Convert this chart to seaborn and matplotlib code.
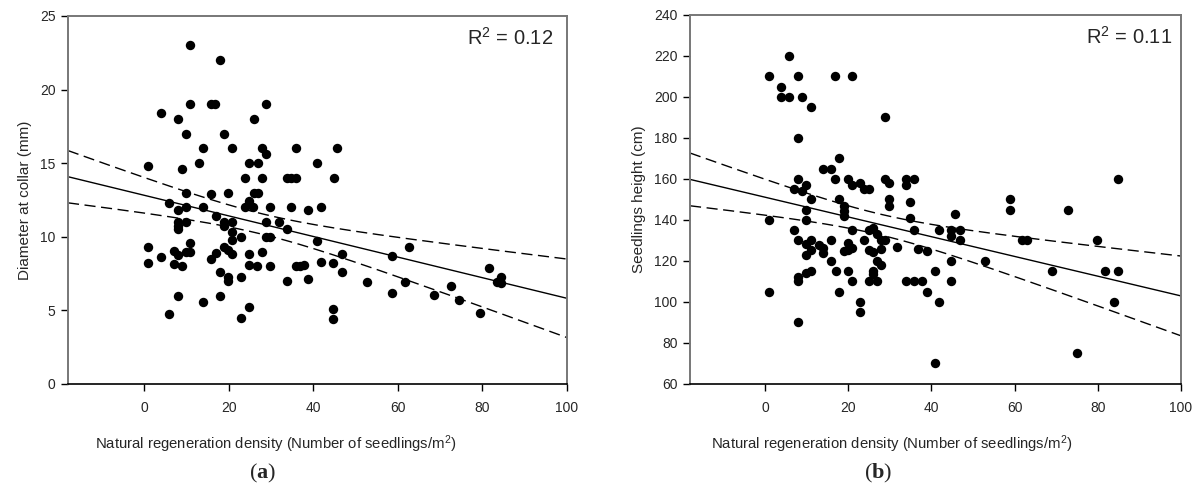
import numpy as np
import pandas as pd
import matplotlib
matplotlib.use("Agg")
import matplotlib.pyplot as plt
import seaborn as sns

# ---------------- data ----------------
density_a = [10.9, 17.9, 4.0, 10.9, 15.9, 16.7, 28.9, 7.9, 25.9, 9.9, 18.9, 14.0, 20.9, 27.8,
             28.9, 35.8, 45.7, 1.0, 8.9, 12.9, 24.9, 26.9, 40.9, 23.9, 27.8, 33.8, 34.7, 35.8,
             44.8, 9.9, 15.9, 19.9, 25.9, 26.9, 24.9, 6.0, 7.9, 9.9, 13.9, 23.8, 25.8, 29.8,
             34.8, 38.8, 41.8, 16.9, 7.9, 9.9, 18.9, 20.9, 18.9, 28.9, 31.8, 7.9, 33.9, 20.9,
             22.8, 20.9, 28.9, 29.8, 40.8, 10.9, 1.0, 7.0, 9.9, 10.9, 7.9, 18.9, 19.9, 20.9,
             16.9, 15.9, 27.8, 24.9, 46.7, 4.0, 1.0, 7.0, 8.9, 24.9, 26.8, 29.8, 35.8, 36.8,
             37.8, 41.8, 44.7, 46.7, 17.9, 19.8, 19.8, 22.8, 33.9, 38.8, 7.9, 13.9, 17.9, 6.0,
             24.9, 22.8, 44.7, 44.7, 52.6, 58.7, 62.7, 58.7, 61.6, 68.5, 72.5, 74.5, 79.5, 81.5,
             84.4, 83.5, 84.4, 7.9]
diameter = [23.0, 22.0, 18.4, 19.0, 19.0, 19.0, 19.0, 18.0, 18.0, 17.0, 17.0, 16.0, 16.0, 16.0,
            15.6, 16.0, 16.0, 14.8, 14.6, 15.0, 15.0, 15.0, 15.0, 14.0, 14.0, 14.0, 14.0, 14.0,
            14.0, 13.0, 12.9, 13.0, 13.0, 13.0, 12.45, 12.3, 11.8, 12.0, 12.0, 12.0, 12.0, 12.0,
            12.0, 11.8, 12.0, 11.4, 11.0, 11.0, 11.0, 11.0, 10.7, 11.0, 11.0, 10.5, 10.5, 10.3,
            10.0, 9.8, 10.0, 10.0, 9.7, 9.6, 9.3, 9.05, 9.0, 9.0, 8.75, 9.3, 9.1, 8.85,
            8.9, 8.5, 9.0, 8.8, 8.85, 8.6, 8.2, 8.15, 8.0, 8.1, 8.0, 8.0, 8.0, 8.0,
            8.1, 8.3, 8.2, 7.6, 7.6, 7.3, 7.0, 7.25, 7.0, 7.1, 6.0, 5.6, 6.0, 4.75,
            5.25, 4.45, 5.07, 4.4, 6.9, 8.67, 9.33, 6.16, 6.9, 6.07, 6.68, 5.7, 4.8, 7.86,
            7.29, 6.95, 6.84, 10.75]

density_b = [5.8, 0.9, 7.9, 16.9, 20.9, 3.9, 3.9, 5.9, 9.0, 11.0, 28.9, 7.9, 17.9, 13.9, 15.9,
             7.9, 16.9, 19.9, 28.9, 33.8, 35.8, 7.0, 9.0, 9.9, 11.0, 20.9, 22.9, 23.9, 25.0,
             29.9, 33.8, 29.9, 29.9, 34.9, 45.8, 17.9, 18.9, 18.9, 18.9, 9.9, 9.9, 0.9, 6.9,
             8.0, 9.9, 11.0, 11.0, 9.9, 13.0, 13.9, 13.9, 15.9, 15.9, 17.0, 17.9, 19.9, 19.9,
             21.0, 18.9, 21.0, 19.9, 21.0, 22.9, 22.9, 23.8, 25.0, 26.0, 26.9, 25.0, 26.0,
             27.9, 28.9, 27.9, 26.9, 27.9, 26.0, 26.0, 25.0, 26.9, 31.8, 34.9, 35.8, 36.9,
             38.9, 33.8, 35.8, 37.8, 38.9, 40.9, 41.8, 41.8, 44.8, 44.8, 46.8, 46.8, 44.8,
             44.8, 0.9, 8.0, 8.0, 8.0, 9.9, 11.0, 40.9, 52.9, 58.9, 58.9, 61.8, 62.9, 68.9,
             72.9, 74.9, 79.8, 81.8, 84.9, 83.8, 84.9]
height = [220, 210, 210, 210, 210, 205, 200, 200, 200, 195, 190, 180, 170, 165, 165,
          160, 160, 160, 160, 160, 160, 155, 154, 157, 150, 157, 158, 155, 155,
          158, 157, 150, 147, 149, 143, 150, 147, 144.5, 142, 145, 140, 140, 135,
          130, 128.5, 130, 125.4, 123, 128, 126.5, 123.8, 130, 120, 115, 105, 129, 125.4,
          126.5, 125, 135, 115, 110, 100, 95, 130, 135, 136, 133, 125.4, 124.3,
          130, 130, 126, 120, 118, 115, 113.5, 110, 110, 127, 141, 135, 126,
          125, 110, 110, 110, 105, 115, 100, 135, 135, 132, 135, 130, 120,
          110, 105, 90, 112.3, 110, 114, 115, 70, 120, 150, 145, 130, 130, 115,
          145, 75, 130, 115, 115, 100, 160]

x_ticks = [0, 20, 40, 60, 80, 100]
y_ticks_a = [0, 5, 10, 15, 20, 25]
y_ticks_b = [60, 80, 100, 120, 140, 160, 180, 200, 220, 240]
x_label = "Natural regeneration density (Number of seedlings/m$^{2}$)"
y_label_a = "Diameter at collar (mm)"
y_label_b = "Seedlings height (cm)"
r2_a = "R$^{2}$ = 0.12"
r2_b = "R$^{2}$ = 0.11"
panel_a = r"($\mathbf{a}$)"
panel_b = r"($\mathbf{b}$)"

# ---------------- style ----------------
sns.set_style("ticks")
plt.rcParams['font.family'] = ['Liberation Sans', 'DejaVu Sans']
plt.rcParams['mathtext.fontset'] = 'custom'
plt.rcParams['mathtext.rm'] = 'Liberation Sans'
plt.rcParams['mathtext.it'] = 'Liberation Sans'
plt.rcParams['mathtext.bf'] = 'Liberation Serif:bold'

fig = plt.figure(figsize=(11.99, 4.93), dpi=100)
ax_a = fig.add_axes([0.0567, 0.2211, 0.4162, 0.7465])
ax_b = fig.add_axes([0.5755, 0.2211, 0.4095, 0.7485])


def fit_band(x, y, xlim):
    x = np.asarray(x, float)
    y = np.asarray(y, float)
    n = len(x)
    b, a = np.polyfit(x, y, 1)
    resid = y - (a + b * x)
    s = np.sqrt(np.sum(resid ** 2) / (n - 2))
    sxx = np.sum((x - x.mean()) ** 2)
    gx = np.linspace(xlim[0], xlim[1], 200)
    gy = a + b * gx
    se = s * np.sqrt(1.0 / n + (gx - x.mean()) ** 2 / sxx)
    t = 1.98
    return pd.DataFrame({"x": gx, "fit": gy, "lo": gy - t * se, "hi": gy + t * se})


def draw(ax, xs, ys, ylim, yticks, ylabel, r2, xlab_pos, r2_x):
    xlim = (-18, 100)
    df = pd.DataFrame({"x": xs, "y": ys})
    band = fit_band(xs, ys, xlim)
    sns.lineplot(data=band, x="x", y="fit", ax=ax, color="black", lw=1.0)
    sns.lineplot(data=band, x="x", y="lo", ax=ax, color="black", lw=1.0)
    sns.lineplot(data=band, x="x", y="hi", ax=ax, color="black", lw=1.0)
    for line in ax.lines[-2:]:
        line.set_dashes((8, 4))
    sns.scatterplot(data=df, x="x", y="y", ax=ax, color="black", s=46,
                    edgecolor="black", linewidth=0, zorder=3)
    ax.set_xlim(*xlim)
    ax.set_ylim(*ylim)
    ax.set_xticks(x_ticks)
    ax.set_yticks(yticks)
    ax.tick_params(axis="both", labelsize=10, length=5, width=1, direction="out",
                   color="black")
    ax.tick_params(axis="x", pad=7)
    ax.tick_params(axis="y", pad=4)
    ax.set_xlabel(x_label, fontsize=10.7)
    ax.xaxis.set_label_coords(xlab_pos, -0.135)
    ax.set_ylabel(ylabel, fontsize=11, labelpad=6)
    for side in ["top", "right", "left"]:
        ax.spines[side].set_color("#777777")
        ax.spines[side].set_linewidth(1.4)
    ax.spines["bottom"].set_color("black")
    ax.spines["bottom"].set_linewidth(1.2)
    ax.text(r2_x, 0.94, r2, transform=ax.transAxes, ha="right", va="center",
            fontsize=14.5)


draw(ax_a, density_a, diameter, (0, 25), y_ticks_a, y_label_a, r2_a, 0.417, 0.972)
draw(ax_b, density_b, height, (60, 240), y_ticks_b, y_label_b, r2_b, 0.411, 0.982)

fig.text(263 / 1199, 0.016, panel_a, ha="center", va="bottom", fontsize=16,
         family=["Liberation Serif"])
fig.text(878 / 1199, 0.016, panel_b, ha="center", va="bottom", fontsize=16,
         family=["Liberation Serif"])

fig.savefig("out.png", dpi=100)
